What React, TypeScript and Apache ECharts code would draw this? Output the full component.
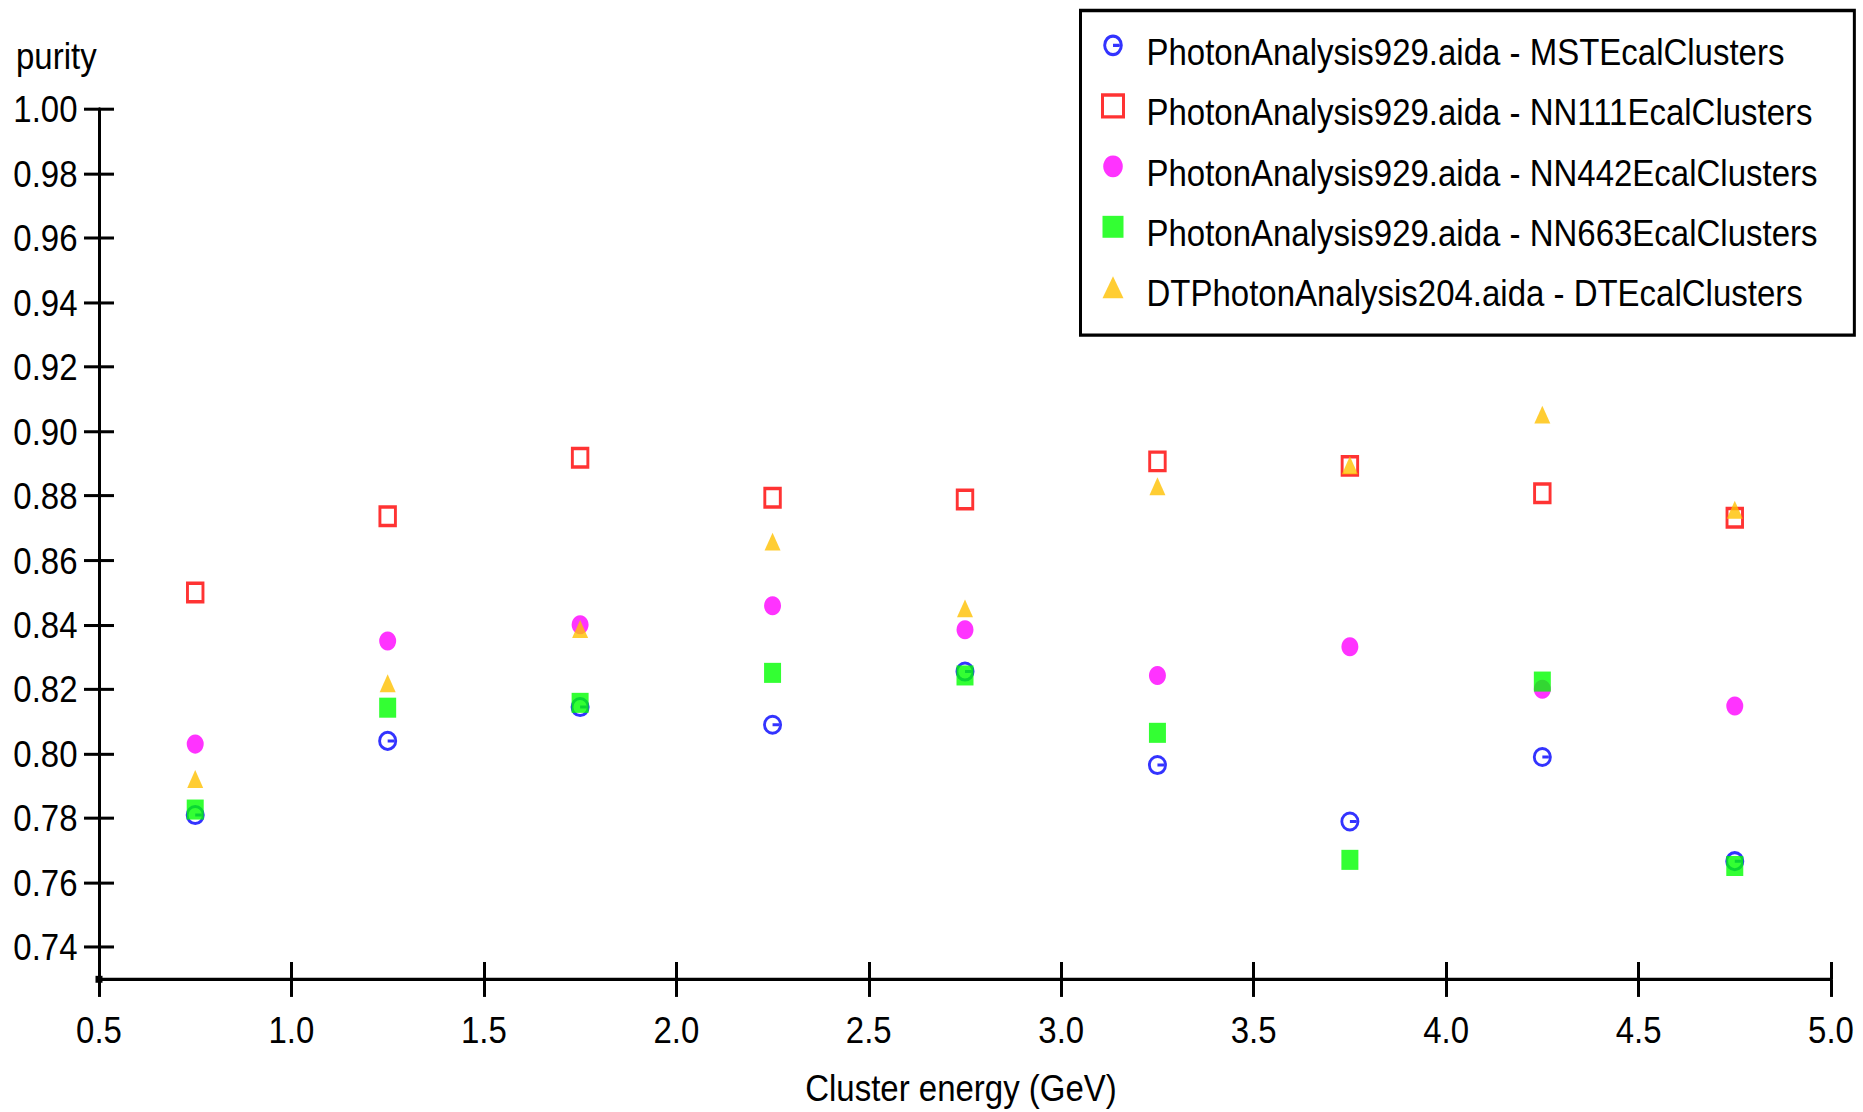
import React, { useEffect, useRef } from "react";
import * as echarts from "echarts";

const xValues = [0.75, 1.25, 1.75, 2.25, 2.75, 3.25, 3.75, 4.25, 4.75];
const mstPurity = [0.781, 0.804, 0.8145, 0.809, 0.8255, 0.7965, 0.779, 0.799, 0.7667];
const nn111Purity = [0.85, 0.8737, 0.8918, 0.8794, 0.8789, 0.8907, 0.8893, 0.8808, 0.8732];
const nn442Purity = [0.803, 0.835, 0.84, 0.8459, 0.8385, 0.8243, 0.8332, 0.82, 0.8148];
const nn663Purity = [0.7827, 0.8143, 0.8158, 0.8251, 0.8243, 0.8065, 0.7671, 0.8224, 0.7652];
const dtPurity = [0.7922, 0.8219, 0.8387, 0.8658, 0.8451, 0.883, 0.8895, 0.9052, 0.8757];

const seriesNames = [
  "PhotonAnalysis929.aida - MSTEcalClusters",
  "PhotonAnalysis929.aida - NN111EcalClusters",
  "PhotonAnalysis929.aida - NN442EcalClusters",
  "PhotonAnalysis929.aida - NN663EcalClusters",
  "DTPhotonAnalysis204.aida - DTEcalClusters",
];

const yTicks = [0.74, 0.76, 0.78, 0.8, 0.82, 0.84, 0.86, 0.88, 0.9, 0.92, 0.94, 0.96, 0.98, 1.0];
const xMin = 0.5;
const xMax = 5.0;
const xInterval = 0.5;
const yMin = 0.73;
const yMax = 1.0;

const FONT = "'Liberation Sans', Arial, Helvetica, sans-serif";

// The reference picture is stretched vertically; draw at a reduced height and stretch.
const W = 1863;
const H_OUT = 1112;
const S = 1.12;
const H = H_OUT / S;

const GRID = { left: 99, right: 32, top: 109 / S, bottom: 132.7 / S };

const ringPath =
  "path://M0,10A10,10,0,1,0,20,10A10,10,0,1,0,0,10ZM3,10A7,7,0,1,1,17,10A7,7,0,1,1,3,10ZM10,8.5L17,8.5L17,11.5L10,11.5Z";

const pairs = (ys: number[]) => xValues.map((x, i) => [x, ys[i]]);

export default function App() {
  const ref = useRef<HTMLDivElement>(null);

  useEffect(() => {
    if (!ref.current) return;
    const chart = echarts.init(ref.current, null, { renderer: "svg" });

    const axisLineStyle = { color: "#000", width: 3 };
    const labelStyle = { fontFamily: FONT, fontSize: 33, color: "#000" };

    chart.setOption({
      animation: false,
      backgroundColor: "#fff",
      title: {
        text: "purity",
        left: 16,
        top: 33,
        padding: 0,
        textStyle: { fontFamily: FONT, fontSize: 33, fontWeight: "normal", color: "#000" },
      },
      grid: { ...GRID, containLabel: false, outerBoundsMode: "none" },
      legend: {
        orient: "vertical",
        left: 1080.5,
        top: 9.4,
        padding: [19.95, 36.5, 20.9, 20.5],
        itemWidth: 21,
        itemHeight: 19.6,
        itemGap: 20.95,
        borderColor: "#000",
        borderWidth: 3,
        borderRadius: 0,
        backgroundColor: "#fff",
        selectedMode: false,
        formatter: (name: string) => `{t|${name}}`,
        textStyle: {
          fontFamily: FONT,
          fontSize: 33,
          color: "#000",
          padding: [10.7, 0, 0, 18],
          rich: {
            t: { fontFamily: FONT, fontSize: 33, color: "#000", lineHeight: 36 },
          },
        },
        data: [
          { name: seriesNames[0] },
          { name: seriesNames[1], itemStyle: { borderWidth: 3 } },
          { name: seriesNames[2] },
          { name: seriesNames[3] },
          { name: seriesNames[4] },
        ],
      },
      xAxis: [
        {
          type: "value",
          min: xMin,
          max: xMax,
          interval: xInterval,
          position: "bottom",
          axisLine: { show: true, onZero: false, lineStyle: axisLineStyle },
          axisTick: { show: true, length: 15.6, lineStyle: axisLineStyle },
          axisLabel: { ...labelStyle, margin: 28, formatter: (v: number) => v.toFixed(1) },
          splitLine: { show: false },
          name: "Cluster energy (GeV)",
          nameLocation: "middle",
          nameGap: 80,
          nameTextStyle: { ...labelStyle, padding: [0, 8, 0, 0] },
        },
        {
          type: "value",
          min: xMin,
          max: xMax,
          interval: xInterval,
          position: "bottom",
          axisLine: { show: false, onZero: false },
          axisTick: { show: true, inside: true, length: 15.6, lineStyle: axisLineStyle },
          axisLabel: { show: false },
          splitLine: { show: false },
        },
      ],
      yAxis: [
        {
          type: "value",
          min: yMin,
          max: yMax,
          position: "left",
          axisLine: { show: true, onZero: false, lineStyle: axisLineStyle },
          axisTick: { show: true, length: 15, customValues: yTicks, lineStyle: { color: "#000", width: 2.7 } },
          axisLabel: {
            ...labelStyle,
            margin: 21.5,
            customValues: yTicks,
            formatter: (v: number) => v.toFixed(2),
          },
          splitLine: { show: false },
        },
        {
          type: "value",
          min: yMin,
          max: yMax,
          position: "left",
          axisLine: { show: false, onZero: false },
          axisTick: {
            show: true,
            inside: true,
            length: 15,
            customValues: yTicks,
            lineStyle: { color: "#000", width: 2.7 },
          },
          axisLabel: { show: false },
          splitLine: { show: false },
        },
      ],
      graphic: [
        {
          type: "rect",
          shape: { x: GRID.left - 3.5, y: H - GRID.bottom - 3.1, width: 7, height: 6.2 },
          style: { fill: "#000" },
          z: 10,
        },
      ],
      series: [
        {
          name: seriesNames[0],
          type: "scatter",
          data: pairs(mstPurity),
          symbol: ringPath,
          symbolSize: [19, 17.9],
          symbolKeepAspect: false,
          itemStyle: { color: "#0000ff" },
          z: 2,
        },
        {
          name: seriesNames[1],
          type: "scatter",
          data: pairs(nn111Purity),
          symbol: "rect",
          symbolSize: [15.5, 16.5],
          symbolKeepAspect: false,
          itemStyle: { color: "rgba(255,255,255,0)", borderColor: "#ff0000", borderWidth: 3 },
          z: 3,
        },
        {
          name: seriesNames[2],
          type: "scatter",
          data: pairs(nn442Purity),
          symbol: "circle",
          symbolSize: 17,
          itemStyle: { color: "#ff00ff" },
          z: 4,
        },
        {
          name: seriesNames[3],
          type: "scatter",
          data: pairs(nn663Purity),
          symbol: "rect",
          symbolSize: [17, 17.9],
          symbolKeepAspect: false,
          itemStyle: { color: "#00ff00" },
          z: 5,
        },
        {
          name: seriesNames[4],
          type: "scatter",
          data: pairs(dtPurity),
          symbol: "triangle",
          symbolSize: [16, 16],
          symbolKeepAspect: false,
          itemStyle: { color: "#ffc000" },
          z: 6,
        },
      ],
    });

    return () => chart.dispose();
  }, []);

  return (
    <div
      ref={ref}
      style={{
        position: "absolute",
        left: 0,
        top: 0,
        width: W,
        height: H,
        transform: `scaleY(${S})`,
        transformOrigin: "0 0",
      }}
    />
  );
}
